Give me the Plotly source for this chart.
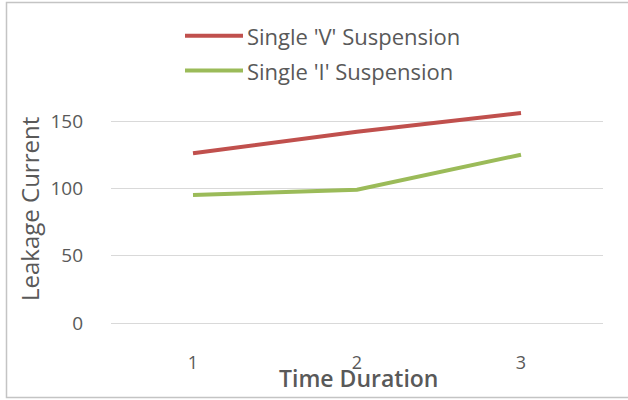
import plotly.graph_objects as go

# Data
categories = [1, 2, 3]
series_names = ["Single 'V' Suspension", "Single 'I' Suspension"]
v_suspension = [126, 142, 156]
i_suspension = [95, 99, 125]
y_ticks = [0, 50, 100, 150]
x_title = "Time Duration"
y_title = "Leakage Current"

colors = ["#C0504D", "#9BBB59"]
text_color = "#595959"
FONT = "Open Sans"

W, H = 628, 400
ML, MR, MT, MB = 111, 25, 20, 50
PW, PH = W - ML - MR, H - MT - MB

def px_x(x):
    return (x - ML) / PW

def px_y(y):
    return (H - MB - y) / PH

fig = go.Figure()
for name, vals, col in zip(series_names, [v_suspension, i_suspension], colors):
    fig.add_trace(go.Scatter(
        x=categories, y=vals, name=name, mode="lines",
        line=dict(color=col, width=4), showlegend=False,
    ))

shapes = []
annotations = []
# custom legend
legend_rows = [35.7, 70.5]
for name, col, yy in zip(series_names, colors, legend_rows):
    shapes.append(dict(type="line", xref="paper", yref="paper",
                       x0=px_x(185), x1=px_x(243), y0=px_y(yy), y1=px_y(yy),
                       line=dict(color=col, width=4)))
    annotations.append(dict(text=name, xref="paper", yref="paper",
                            x=px_x(245), y=px_y(yy), xanchor="left", yanchor="middle",
                            showarrow=False,
                            font=dict(family=FONT, size=22, color=text_color)))

# border
shapes.append(dict(type="rect", xref="paper", yref="paper",
                   x0=px_x(6.5), x1=px_x(640), y0=px_y(397.5), y1=px_y(2.5),
                   line=dict(color="#C4C4C4", width=1.5), layer="below"))

# axis titles
annotations.append(dict(text=x_title, xref="paper", yref="paper",
                        x=px_x(358), y=px_y(378), xanchor="center", yanchor="middle",
                        showarrow=False,
                        font=dict(family=FONT, size=23, color=text_color, weight=600)))
annotations.append(dict(text=y_title, xref="paper", yref="paper",
                        x=px_x(29), y=px_y(209), xanchor="center", yanchor="middle",
                        textangle=-90, showarrow=False,
                        font=dict(family=FONT, size=24, color=text_color)))

px_per_unit = (323 - 121) / 150.0
y_lo = -(H - MB - 323) / px_per_unit
y_hi = (323 - MT) / px_per_unit

fig.update_layout(
    width=W, height=H,
    margin=dict(l=ML, r=MR, t=MT, b=MB),
    paper_bgcolor="white", plot_bgcolor="white",
    shapes=shapes, annotations=annotations,
    xaxis=dict(range=[0.5, 3.5], tickvals=categories, ticktext=[str(c) for c in categories],
               showgrid=False, zeroline=False, showline=False, ticks="",
               tickfont=dict(family=FONT, size=18, color=text_color),
               ticklabelstandoff=0),
    yaxis=dict(range=[y_lo, y_hi], tickvals=y_ticks, showgrid=True,
               gridcolor="#D9D9D9", gridwidth=1, zeroline=False, showline=False,
               ticks="", tickfont=dict(family=FONT, size=19, color=text_color),
               ticklabelstandoff=27),
)

fig.write_html("out.html", config={"displayModeBar": False},
               post_script="document.body.style.margin='0';")
